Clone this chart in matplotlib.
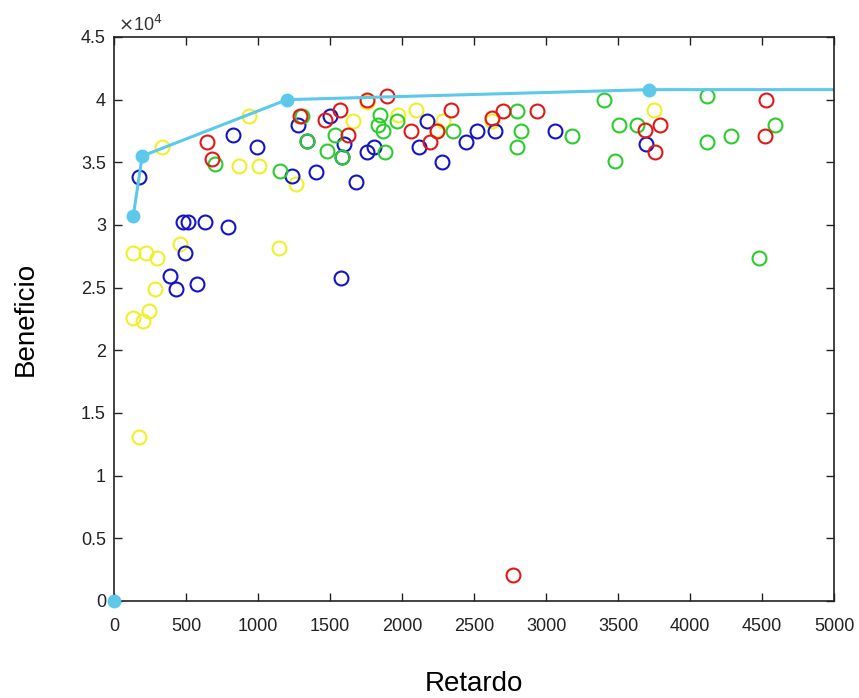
import matplotlib
matplotlib.use("Agg")
import matplotlib.pyplot as plt
from matplotlib.ticker import FuncFormatter

# Beneficio values are in units of 1e4
SCALE = 1e4

red_x = [646, 680, 1292, 1465, 1569, 1625, 1757, 1896, 2063, 2194, 2243, 2340,
         2625, 2701, 2938, 3688, 3792, 3757, 4528, 4521, 2771]
red_y = [3.66, 3.53, 3.87, 3.84, 3.92, 3.72, 4.00, 4.03, 3.75, 3.66, 3.75, 3.92,
         3.85, 3.91, 3.91, 3.76, 3.80, 3.58, 4.00, 3.71, 0.21]

green_x = [701, 1153, 1306, 1340, 1479, 1535, 1583, 1847, 1833, 1868, 1882, 1965,
           2354, 2799, 2826, 2799, 3181, 3403, 3479, 3507, 3632, 4118, 4118, 4285,
           4590, 4479]
green_y = [3.49, 3.43, 3.87, 3.67, 3.59, 3.72, 3.54, 3.88, 3.80, 3.75, 3.58, 3.83,
           3.75, 3.91, 3.75, 3.62, 3.71, 4.00, 3.51, 3.80, 3.80, 4.03, 3.66, 3.71,
           3.80, 2.74]

blue_x = [174, 479, 514, 632, 792, 493, 389, 431, 577, 826, 993, 1236, 1403, 1278,
          1340, 1500, 1597, 1583, 1576, 1681, 1757, 1806, 2118, 2174, 2278, 2444,
          2521, 2646, 3063, 3694]
blue_y = [3.38, 3.02, 3.02, 3.02, 2.98, 2.78, 2.59, 2.49, 2.53, 3.72, 3.62, 3.39,
          3.42, 3.80, 3.67, 3.87, 3.65, 3.54, 2.58, 3.34, 3.58, 3.62, 3.62, 3.83,
          3.50, 3.66, 3.75, 3.75, 3.75, 3.65]

yellow_x = [132, 222, 299, 458, 285, 132, 202, 243, 174, 1146, 333, 938, 868, 1007,
            1264, 1660, 1757, 1972, 2097, 2285, 2243, 2625, 3750]
yellow_y = [2.78, 2.78, 2.74, 2.85, 2.49, 2.26, 2.23, 2.31, 1.31, 2.82, 3.62, 3.87,
            3.47, 3.47, 3.33, 3.83, 3.98, 3.88, 3.92, 3.83, 3.76, 3.83, 3.92]

front_x = [132, 194, 1200, 3715, 5000]
front_y = [3.07, 3.55, 4.00, 4.08, 4.08]
front_marked = [True, True, True, True, False]
origin_x = [0]
origin_y = [0]

plt.rcParams['font.family'] = ['Liberation Sans', 'DejaVu Sans']

fig = plt.figure(figsize=(8.59, 6.98), dpi=100)
ax = fig.add_axes([0.133, 0.139, 0.838, 0.808])

series = [
    (yellow_x, yellow_y, "#f0f028"),
    (blue_x, blue_y, "#1414c0"),
    (green_x, green_y, "#2ccc2c"),
    (red_x, red_y, "#e01818"),
]
for xs, ys, col in series:
    ax.plot(xs, [v * SCALE for v in ys], linestyle="none", marker="o",
            markersize=10, markerfacecolor="none", markeredgecolor=col,
            markeredgewidth=1.5)

cyan = "#5cc8ea"
ax.plot(front_x, [v * SCALE for v in front_y], color=cyan, linewidth=2.2)
mx = [x for x, m in zip(front_x, front_marked) if m]
my = [y * SCALE for y, m in zip(front_y, front_marked) if m]
ax.plot(mx, my, linestyle="none", marker="o", markersize=9, color=cyan)
ax.plot(origin_x, origin_y, linestyle="none", marker="o", markersize=9,
        color=cyan, clip_on=False, zorder=5)

ax.set_xlim(0, 5000)
ax.set_ylim(0, 4.5 * SCALE)
ax.set_xticks(range(0, 5001, 500))
ax.set_yticks([v * SCALE for v in [0, 0.5, 1, 1.5, 2, 2.5, 3, 3.5, 4, 4.5]])
ax.yaxis.set_major_formatter(FuncFormatter(lambda v, p: "%g" % (v / SCALE)))
ax.tick_params(direction="in", top=True, right=True, length=6, width=1,
               labelsize=13, colors="#222222")
ax.tick_params(axis="x", pad=12)
ax.tick_params(axis="y", pad=6)
for s in ax.spines.values():
    s.set_linewidth(1.2)
    s.set_color("#222222")

ax.text(0.005, 1.003, r"$\times$10$^4$", transform=ax.transAxes, fontsize=13,
        ha="left", va="bottom", color="#333333")

ax.set_xlabel("Retardo", fontsize=20, labelpad=26)
ax.set_ylabel("Beneficio", fontsize=20, labelpad=30)

fig.savefig("out.png", dpi=100)
